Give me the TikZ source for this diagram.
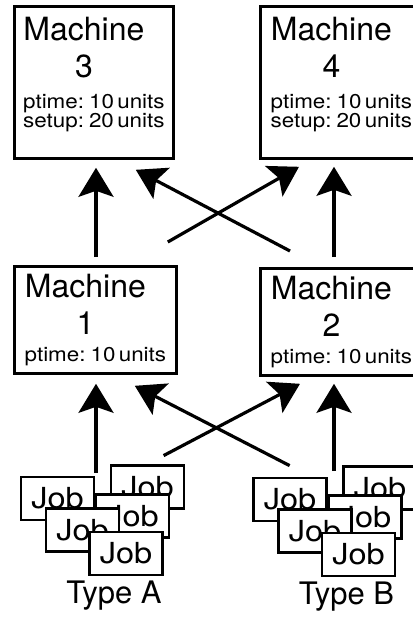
\documentclass[tikz,border=0pt]{standalone}
\usepackage{fontspec}
\setmainfont{TeX Gyre Heros}
\newfontfamily\detailfont[FakeStretch=1.12]{TeX Gyre Heros}
\newfontfamily\jobfont[FakeStretch=1.12]{TeX Gyre Heros}
\usetikzlibrary{arrows.meta}

\newcommand\mtitle{\fontsize{32}{37}\selectfont}
\newcommand\mdetail{\detailfont\fontsize{20}{16.5}\selectfont}

\tikzset{
  machine/.style={draw,line width=2.8pt,minimum width=162pt,anchor=north west,inner sep=0pt},
  mtext/.style={anchor=north,text width=172pt,align=center,inner sep=0pt},
  job/.style={draw,fill=white,line width=2.8pt,minimum width=73pt,minimum height=43pt,
    inner sep=0pt,font=\jobfont\fontsize{29}{29}\selectfont},
  flow/.style={line width=3.2pt,-{Stealth[length=29pt,width=35pt,inset=6pt]}},
}

\begin{document}
\begin{tikzpicture}[x=1pt,y=-1pt]
    \useasboundingbox (0,0) rectangle (412,617);

    % second stage
    \node[machine,minimum width=159pt,minimum height=152pt] (m3) at (13,5) {};
    \node[machine,minimum height=152pt] (m4) at (259,5) {};
    \node[mtext] (m3t) at ([yshift=-12pt]m3.north) {\mtitle Machine\kern20pt\\3\kern20pt\par
      \vspace{14pt}\mdetail ptime: 10 units\\setup: 20 units\par};
    \node[mtext] (m4t) at ([yshift=-12pt]m4.north) {\mtitle Machine\kern20pt\\4\kern20pt\par
      \vspace{14pt}\mdetail ptime: 10 units\\setup: 20 units\par};

    % first stage
    \node[machine,minimum height=107pt] (m1) at (13,265) {};
    \node[machine,minimum height=107pt] (m2) at (259,267) {};
    \node[mtext] (m1t) at ([yshift=-9pt]m1.north) {\mtitle Machine\kern20pt\\1\kern20pt\par
      \vspace{10pt}\mdetail ptime: 10 units\par};
    \node[mtext] (m2t) at ([yshift=-9pt]m2.north) {\mtitle Machine\kern20pt\\2\kern20pt\par
      \vspace{10pt}\mdetail ptime: 10 units\par};

    % job stacks, back to front
    \foreach \g/\dx/\dy in {A/0/0,B/232.5/1}{
      \begin{scope}[shift={(\dx,\dy)}]
        \node[job] (job\g1) at (147.5,487) {Job};
        \node[job] (job\g2) at (57.5,498.5) {Job};
        \node[job] (job\g3) at (132.5,516) {Job};
        \node[job] (job\g4) at (82.5,530) {Job};
        \node[job] (job\g5) at (126,553.5) {Job};
        \node[anchor=base,font=\fontsize{31}{31}\selectfont] (type\g) at (114,603) {Type \g};
      \end{scope}
    }
    \coordinate (astack) at (96,473);
    \coordinate (bstack) at (334,471);

    % jobs -> first stage
    \draw[flow,shorten >=9pt] (astack) -- (astack |- m1.south);
    \draw[flow,shorten >=7pt] (bstack) -- (bstack |- m2.south);
    \draw[flow] ([shift={(54,-8.5)}]jobA1.north west) -- ([shift={(41,7)}]m2.south west);
    \draw[flow] ([shift={(37.5,-11)}]jobB2.north west) -- ([shift={(-43,11)}]m1.south east);

    % first stage -> second stage
    \draw[flow,shorten <=8pt,shorten >=8pt] (astack |- m1.north) -- (astack |- m3.south);
    \draw[flow,shorten <=10pt,shorten >=7pt] (bstack |- m2.north) -- (bstack |- m4.south);
    \draw[flow] ([shift={(-10,-23)}]m1.north east) -- ([shift={(40,7)}]m4.south west);
    \draw[flow] ([shift={(31,-16)}]m2.north west) -- ([shift={(-39,10)}]m3.south east);
\end{tikzpicture}
\end{document}
